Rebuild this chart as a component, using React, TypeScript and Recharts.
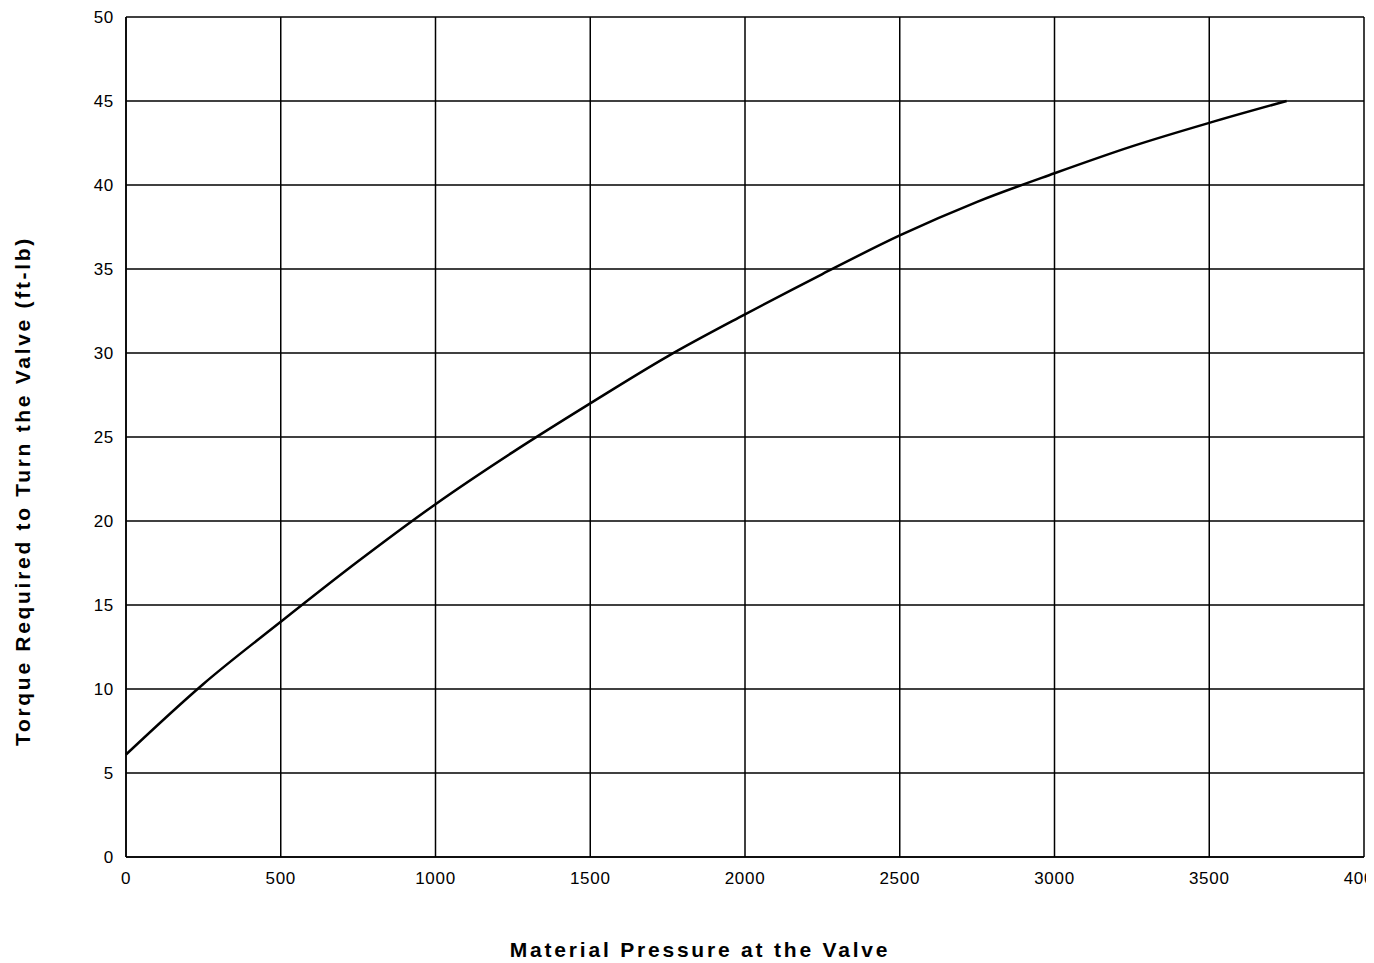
import React from "react";
import { LineChart, Line, XAxis, YAxis, CartesianGrid, Label } from "recharts";

const pressure = [0, 250, 500, 750, 1000, 1250, 1500, 1750, 2000, 2250, 2500, 2750, 3000, 3250, 3500, 3750];
const torque = [6.1, 10.3, 14.0, 17.6, 21.0, 24.1, 27.0, 29.8, 32.3, 34.7, 37.0, 39.0, 40.7, 42.3, 43.7, 45.0];
const xTicks = [0, 500, 1000, 1500, 2000, 2500, 3000, 3500, 4000];
const yTicks = [0, 5, 10, 15, 20, 25, 30, 35, 40, 45, 50];

const data = pressure.map((p, i) => ({ p, t: torque[i] }));

const FONT = "'Liberation Sans', Arial, Helvetica, sans-serif";

const YLabel = (props: any) => {
  const vb = props.viewBox;
  const cx = vb.x + 14;
  const cy = vb.y + vb.height / 2 + 54;
  return (
    <text x={cx} y={cy} transform={`rotate(-90, ${cx}, ${cy})`} textAnchor="middle" dominantBaseline="central"
      fontFamily={FONT} fontWeight="bold" fontSize={21} letterSpacing={2.7} fill="#000">
      Torque Required to Turn the Valve (ft-lb)
    </text>
  );
};

const XLabel = (props: any) => {
  const vb = props.viewBox;
  const cx = vb.x + vb.width / 2 - 45;
  return (
    <text x={cx} y={949} textAnchor="middle" fontFamily={FONT} fontWeight="bold" fontSize={21} letterSpacing={2.8} fill="#000">
      Material Pressure at the Valve
    </text>
  );
};

export default function App() {
  return (
    <LineChart width={1366} height={955} data={data} margin={{ top: 9, right: 10, left: 0, bottom: 0 }}
      style={{ fontFamily: FONT }}>
      <CartesianGrid stroke="#000" strokeWidth={1.5} />
      <XAxis dataKey="p" type="number" domain={[0, 4000]} ticks={xTicks} interval={0}
        tickLine={false} tickSize={0} tickMargin={15} height={106}
        axisLine={{ stroke: "#000", strokeWidth: 1.5 }}
        tick={{ fill: "#000", fontSize: 17, fontFamily: FONT, letterSpacing: 0.7 }}>
        <Label content={<XLabel />} />
      </XAxis>
      <YAxis type="number" domain={[0, 50]} ticks={yTicks} interval={0} width={118}
        tickLine={false} tickSize={0} tickMargin={12}
        axisLine={{ stroke: "#000", strokeWidth: 1.5 }}
        tick={{ fill: "#000", fontSize: 17, fontFamily: FONT, letterSpacing: 0.7 }}>
        <Label content={<YLabel />} />
      </YAxis>
      <Line dataKey="t" type="monotone" stroke="#000" strokeWidth={2.5} dot={false} isAnimationActive={false} />
    </LineChart>
  );
}
